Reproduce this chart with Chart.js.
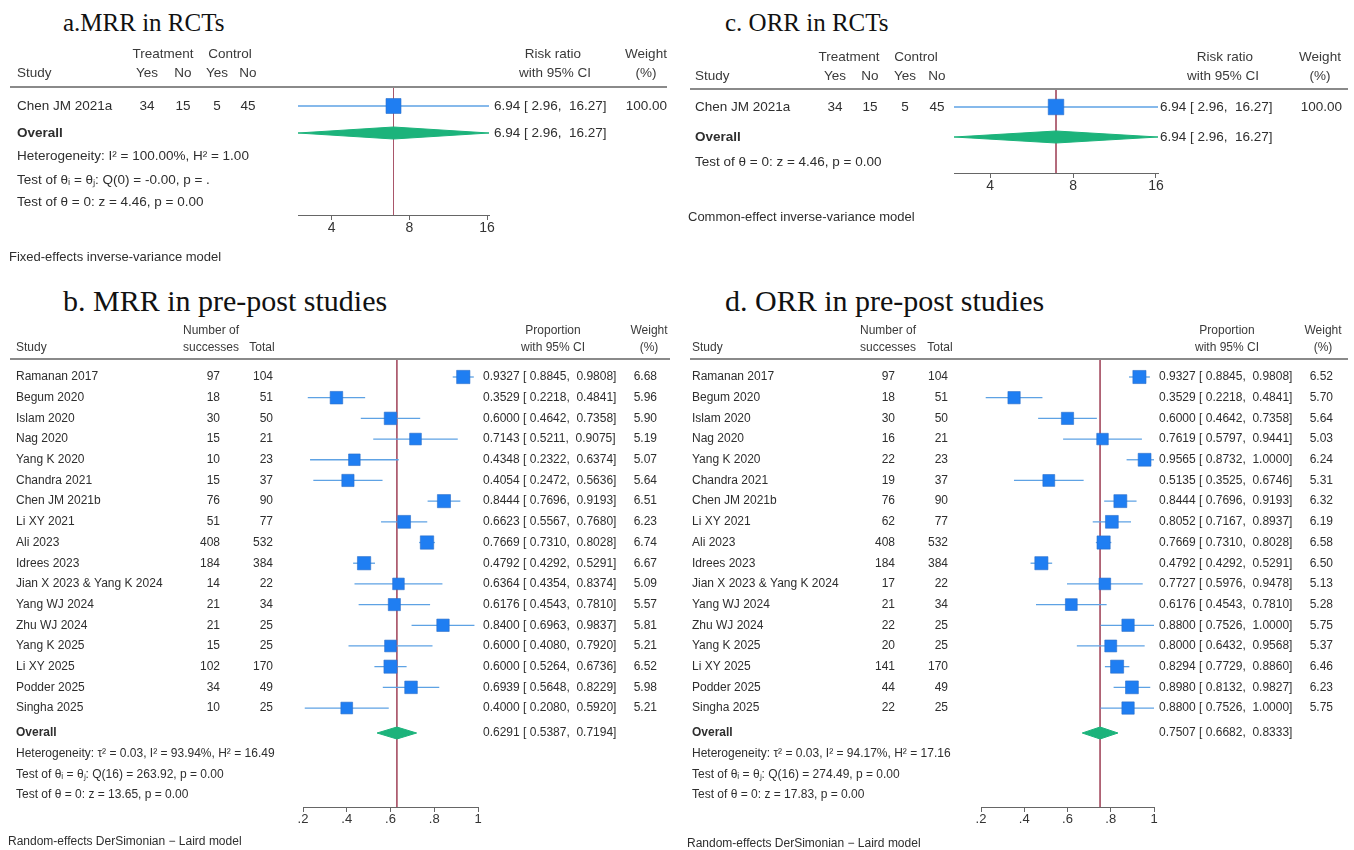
<!DOCTYPE html>
<html>
<head>
<meta charset="utf-8">
<script src="https://cdn.jsdelivr.net/npm/chart.js@4.4.1/dist/chart.umd.min.js"></script>
<style>
  body { margin: 0; background: #fff; width: 1354px; height: 850px; position: relative; overflow: hidden; }
  .panel { position: absolute; }
  .title { position: absolute; font-family: "Liberation Serif", "Times New Roman", serif; color: #111; white-space: nowrap; line-height: 1; }
</style>
</head>
<body>
<div class="title" style="left:63px; top:10px; font-size:25px;">a.MRR in RCTs</div>
<div class="title" style="left:725px; top:10px; font-size:25px;">c. ORR in RCTs</div>
<div class="title" style="left:63px; top:286px; font-size:30px;">b. MRR in pre-post studies</div>
<div class="title" style="left:725px; top:286px; font-size:30px;">d. ORR in pre-post studies</div>

<div class="panel" style="left:0; top:0; width:680px; height:275px;"><canvas id="chartA"></canvas></div>
<div class="panel" style="left:680px; top:0; width:674px; height:235px;"><canvas id="chartC"></canvas></div>
<div class="panel" style="left:0; top:290px; width:680px; height:560px;"><canvas id="chartB"></canvas></div>
<div class="panel" style="left:680px; top:290px; width:674px; height:560px;"><canvas id="chartD"></canvas></div>

<script>
// ---- RCTs (a: MRR, c: ORR) ----
const rctStudies = ['Chen JM 2021a'];
const mrrRctTreatYes = [34], mrrRctTreatNo = [15], mrrRctCtrlYes = [5], mrrRctCtrlNo = [45];
const mrrRctRR = [6.94], mrrRctLo = [2.96], mrrRctHi = [16.27], mrrRctWeight = [100.00];
const mrrRctOverall = [6.94, 2.96, 16.27];
const orrRctTreatYes = [34], orrRctTreatNo = [15], orrRctCtrlYes = [5], orrRctCtrlNo = [45];
const orrRctRR = [6.94], orrRctLo = [2.96], orrRctHi = [16.27], orrRctWeight = [100.00];
const orrRctOverall = [6.94, 2.96, 16.27];
const rctTicks = [4, 8, 16];

// ---- pre-post studies (b: MRR, d: ORR) ----
const ppStudies = ['Ramanan 2017', 'Begum 2020', 'Islam 2020', 'Nag 2020', 'Yang K 2020', 'Chandra 2021',
  'Chen JM 2021b', 'Li XY 2021', 'Ali 2023', 'Idrees 2023', 'Jian X 2023 & Yang K 2024', 'Yang WJ 2024',
  'Zhu WJ 2024', 'Yang K 2025', 'Li XY 2025', 'Podder 2025', 'Singha 2025'];
const ppTotal = [104, 51, 50, 21, 23, 37, 90, 77, 532, 384, 22, 34, 25, 25, 170, 49, 25];

const mrrEvents = [97, 18, 30, 15, 10, 15, 76, 51, 408, 184, 14, 21, 21, 15, 102, 34, 10];
const mrrProp = [0.9327, 0.3529, 0.6000, 0.7143, 0.4348, 0.4054, 0.8444, 0.6623, 0.7669, 0.4792, 0.6364, 0.6176, 0.8400, 0.6000, 0.6000, 0.6939, 0.4000];
const mrrLo = [0.8845, 0.2218, 0.4642, 0.5211, 0.2322, 0.2472, 0.7696, 0.5567, 0.7310, 0.4292, 0.4354, 0.4543, 0.6963, 0.4080, 0.5264, 0.5648, 0.2080];
const mrrHi = [0.9808, 0.4841, 0.7358, 0.9075, 0.6374, 0.5636, 0.9193, 0.7680, 0.8028, 0.5291, 0.8374, 0.7810, 0.9837, 0.7920, 0.6736, 0.8229, 0.5920];
const mrrWeight = [6.68, 5.96, 5.90, 5.19, 5.07, 5.64, 6.51, 6.23, 6.74, 6.67, 5.09, 5.57, 5.81, 5.21, 6.52, 5.98, 5.21];
const mrrOverall = [0.6291, 0.5387, 0.7194];

const orrEvents = [97, 18, 30, 16, 22, 19, 76, 62, 408, 184, 17, 21, 22, 20, 141, 44, 22];
const orrProp = [0.9327, 0.3529, 0.6000, 0.7619, 0.9565, 0.5135, 0.8444, 0.8052, 0.7669, 0.4792, 0.7727, 0.6176, 0.8800, 0.8000, 0.8294, 0.8980, 0.8800];
const orrLo = [0.8845, 0.2218, 0.4642, 0.5797, 0.8732, 0.3525, 0.7696, 0.7167, 0.7310, 0.4292, 0.5976, 0.4543, 0.7526, 0.6432, 0.7729, 0.8132, 0.7526];
const orrHi = [0.9808, 0.4841, 0.7358, 0.9441, 1.0000, 0.6746, 0.9193, 0.8937, 0.8028, 0.5291, 0.9478, 0.7810, 1.0000, 0.9568, 0.8860, 0.9827, 1.0000];
const orrWeight = [6.52, 5.70, 5.64, 5.03, 6.24, 5.31, 6.32, 6.19, 6.58, 6.50, 5.13, 5.28, 5.75, 5.37, 6.46, 6.23, 5.75];
const orrOverall = [0.7507, 0.6682, 0.8333];
const propTicks = [0.2, 0.4, 0.6, 0.8, 1];

const SANS = '"Liberation Sans", Arial, sans-serif';
const AXIS_H = 24;

function ciText(e, l, h, dp) {
  return e.toFixed(dp) + ' [ ' + l.toFixed(dp) + ',  ' + h.toFixed(dp) + ']';
}

function tickFmt(v) {
  if (v >= 2) return String(v);
  const r = Math.round(v * 10) / 10;
  return r === 1 ? '1' : String(r).replace(/^0\./, '.');
}

function forest(id, d, L) {
  const rows = d.est.map((_, i) => i);
  const yMin = (L.top - L.row0) / L.step;
  const yMax = (L.bottom - L.row0) / L.step;
  const ovRow = (L.ovY - L.row0) / L.step;
  const dh = 6 / L.step;

  const datasets = [];
  // reference line at overall estimate
  datasets.push({ type: 'line', data: [{ x: d.ov[0], y: yMin }, { x: d.ov[0], y: yMax }],
    borderColor: '#a9566a', borderWidth: 1, pointRadius: 0, order: 5 });
  // confidence intervals
  rows.forEach(i => datasets.push({ type: 'line', data: [{ x: d.lo[i], y: i }, { x: d.hi[i], y: i }],
    borderColor: '#5ea2e4', borderWidth: 1.3, pointRadius: 0, order: 4 }));
  // overall diamond
  datasets.push({ type: 'line',
    data: [{ x: d.ov[1], y: ovRow }, { x: d.ov[0], y: ovRow - dh }, { x: d.ov[2], y: ovRow },
           { x: d.ov[0], y: ovRow + dh }, { x: d.ov[1], y: ovRow }],
    borderColor: '#1cb37b', backgroundColor: '#1cb37b', borderWidth: 1, fill: 'shape',
    pointRadius: 0, tension: 0, order: 3 });
  // study estimates
  datasets.push({ type: 'scatter', data: rows.map(i => ({ x: d.est[i], y: i })),
    pointStyle: 'rect', pointRadius: d.w.map(w => L.k * Math.sqrt(w)),
    pointBackgroundColor: '#1f7ef2', pointBorderColor: '#2b6fc9', pointBorderWidth: 0.6,
    clip: false, order: 2 });

  const texts = L.texts(d, ovRow);

  const textPlugin = {
    id: 'forestText' + id,
    afterDraw(chart) {
      const ctx = chart.ctx, ys = chart.scales.y;
      ctx.save();
      ctx.strokeStyle = '#8a8a8a';
      ctx.lineWidth = 2;
      ctx.beginPath();
      ctx.moveTo(L.rule[0], chart.chartArea.top);
      ctx.lineTo(L.rule[1], chart.chartArea.top);
      ctx.stroke();
      ctx.textBaseline = 'middle';
      texts.forEach(t => {
        ctx.font = (t.bold ? 'bold ' : '') + (t.size || L.size) + 'px ' + SANS;
        ctx.fillStyle = t.color || '#2e2e2e';
        ctx.textAlign = t.align || 'left';
        const py = t.row !== undefined ? ys.getPixelForValue(t.row) : t.py;
        ctx.fillText(t.s, t.x, py);
      });
      ctx.restore();
    }
  };

  const W = L.W, H = L.H;
  new Chart(document.getElementById(id), {
    type: 'scatter',
    data: { datasets },
    options: {
      responsive: true,
      maintainAspectRatio: false,
      animation: false,
      events: [],
      layout: { padding: { left: L.left, right: W - L.right, top: L.top, bottom: H - L.bottom - AXIS_H } },
      plugins: { legend: { display: false }, tooltip: { enabled: false } },
      scales: {
        x: {
          type: L.log ? 'logarithmic' : 'linear',
          bounds: 'data',
          min: L.xMin, max: L.xMax,
          afterBuildTicks: s => { s.ticks = L.ticks.map(v => ({ value: v })); },
          afterFit: s => { s.height = AXIS_H; },
          ticks: { callback: v => tickFmt(v), color: '#333', font: { size: L.tickSize, family: SANS },
                   padding: 0, autoSkip: false, maxRotation: 0 },
          grid: { display: true, drawOnChartArea: false, drawTicks: true, tickLength: 5, color: '#666', lineWidth: 1 },
          border: { display: true, color: '#666', width: 1 }
        },
        y: { type: 'linear', display: false, reverse: true, min: yMin, max: yMax }
      }
    },
    plugins: [textPlugin]
  });
}

function rctTextBuilder(c, stats, footer, foot) {
  return (d, ovRow) => {
    const t = [];
    const hc = '#3a3a3a';
    t.push({ s: 'Treatment', x: c.treat, py: c.h1, align: 'center', color: hc });
    t.push({ s: 'Control', x: c.ctrl, py: c.h1, align: 'center', color: hc });
    t.push({ s: 'Risk ratio', x: c.ciH, py: c.h1, align: 'center', color: hc });
    t.push({ s: 'Weight', x: c.wH, py: c.h1, align: 'center', color: hc });
    t.push({ s: 'Study', x: c.name, py: c.h2, color: hc });
    t.push({ s: 'Yes', x: c.ty, py: c.h2, align: 'center', color: hc });
    t.push({ s: 'No', x: c.tn, py: c.h2, align: 'center', color: hc });
    t.push({ s: 'Yes', x: c.cy, py: c.h2, align: 'center', color: hc });
    t.push({ s: 'No', x: c.cn, py: c.h2, align: 'center', color: hc });
    t.push({ s: 'with 95% CI', x: c.ciH2, py: c.h2, align: 'center', color: hc });
    t.push({ s: '(%)', x: c.wH, py: c.h2, align: 'center', color: hc });
    d.names.forEach((nm, i) => {
      t.push({ s: nm, x: c.name, row: i });
      t.push({ s: String(d.ty[i]), x: c.ty, row: i, align: 'center' });
      t.push({ s: String(d.tn[i]), x: c.tn, row: i, align: 'center' });
      t.push({ s: String(d.cy[i]), x: c.cy, row: i, align: 'center' });
      t.push({ s: String(d.cn[i]), x: c.cn, row: i, align: 'center' });
      t.push({ s: ciText(d.est[i], d.lo[i], d.hi[i], 2), x: c.val, row: i });
      t.push({ s: d.w[i].toFixed(2), x: c.w, row: i, align: 'right' });
    });
    t.push({ s: 'Overall', x: c.name, row: ovRow, bold: true });
    t.push({ s: ciText(d.ov[0], d.ov[1], d.ov[2], 2), x: c.val, row: ovRow });
    stats.forEach((s, j) => t.push({ s, x: c.name, py: c.stats[j] }));
    t.push({ s: footer, x: foot[0], py: foot[1], size: 13 });
    return t;
  };
}

function ppTextBuilder(c, stats, footer, foot) {
  return (d, ovRow) => {
    const t = [];
    const hc = '#3a3a3a';
    t.push({ s: 'Number of', x: c.evH, py: c.h1, align: 'center', color: hc });
    t.push({ s: 'Proportion', x: c.ciH, py: c.h1, align: 'center', color: hc });
    t.push({ s: 'Weight', x: c.wH, py: c.h1, align: 'center', color: hc });
    t.push({ s: 'Study', x: c.name, py: c.h2, color: hc });
    t.push({ s: 'successes', x: c.evH, py: c.h2, align: 'center', color: hc });
    t.push({ s: 'Total', x: c.totH, py: c.h2, align: 'center', color: hc });
    t.push({ s: 'with 95% CI', x: c.ciH, py: c.h2, align: 'center', color: hc });
    t.push({ s: '(%)', x: c.wH, py: c.h2, align: 'center', color: hc });
    d.names.forEach((nm, i) => {
      t.push({ s: nm, x: c.name, row: i });
      t.push({ s: String(d.ev[i]), x: c.ev, row: i, align: 'right' });
      t.push({ s: String(d.tot[i]), x: c.tot, row: i, align: 'right' });
      t.push({ s: ciText(d.est[i], d.lo[i], d.hi[i], 4), x: c.val, row: i });
      t.push({ s: d.w[i].toFixed(2), x: c.w, row: i, align: 'right' });
    });
    t.push({ s: 'Overall', x: c.name, row: ovRow, bold: true });
    t.push({ s: ciText(d.ov[0], d.ov[1], d.ov[2], 4), x: c.val, row: ovRow });
    stats.forEach((s, j) => t.push({ s, x: c.name, py: c.stats[j] }));
    t.push({ s: footer, x: foot[0], py: foot[1] });
    return t;
  };
}

// a. MRR in RCTs
forest('chartA', {
  names: rctStudies, ty: mrrRctTreatYes, tn: mrrRctTreatNo, cy: mrrRctCtrlYes, cn: mrrRctCtrlNo,
  est: mrrRctRR, lo: mrrRctLo, hi: mrrRctHi, w: mrrRctWeight, ov: mrrRctOverall
}, {
  W: 680, H: 275, left: 298, right: 489, top: 87, bottom: 215, row0: 106, step: 23, ovY: 133,
  log: true, xMin: 2.96, xMax: 16.27, ticks: rctTicks, tickSize: 14, k: 1.06, size: 13.5, rule: [10, 667],
  texts: rctTextBuilder(
    { name: 17, treat: 163, ctrl: 230, ty: 147, tn: 183, cy: 217, cn: 248, ciH: 553, ciH2: 555, wH: 646,
      val: 494, w: 667, h1: 54, h2: 73, stats: [156, 180, 202] },
    ['Heterogeneity: I² = 100.00%, H² = 1.00', 'Test of θᵢ = θⱼ: Q(0) = -0.00, p = .', 'Test of θ = 0: z = 4.46, p = 0.00'],
    'Fixed-effects inverse-variance model', [9, 257])
});

// c. ORR in RCTs
forest('chartC', {
  names: rctStudies, ty: orrRctTreatYes, tn: orrRctTreatNo, cy: orrRctCtrlYes, cn: orrRctCtrlNo,
  est: orrRctRR, lo: orrRctLo, hi: orrRctHi, w: orrRctWeight, ov: orrRctOverall
}, {
  W: 674, H: 235, left: 274, right: 478, top: 89, bottom: 173, row0: 107, step: 23, ovY: 137,
  log: true, xMin: 2.96, xMax: 16.27, ticks: rctTicks, tickSize: 14, k: 1.1, size: 13.5, rule: [10, 668],
  texts: rctTextBuilder(
    { name: 15, treat: 169, ctrl: 236, ty: 155, tn: 190, cy: 225, cn: 257, ciH: 545, ciH2: 543, wH: 640,
      val: 480, w: 662, h1: 57, h2: 76, stats: [162] },
    ['Test of θ = 0: z = 4.46, p = 0.00'],
    'Common-effect inverse-variance model', [8, 217])
});

// b. MRR in pre-post studies
forest('chartB', {
  names: ppStudies, ev: mrrEvents, tot: ppTotal,
  est: mrrProp, lo: mrrLo, hi: mrrHi, w: mrrWeight, ov: mrrOverall
}, {
  W: 680, H: 560, left: 303, right: 478, top: 69, bottom: 517, row0: 87, step: 20.69, ovY: 443,
  log: false, xMin: 0.2, xMax: 1, ticks: propTicks, tickSize: 13, k: 3.64, size: 12, rule: [10, 670],
  texts: ppTextBuilder(
    { name: 16, evH: 211, totH: 262, ev: 220, tot: 273, ciH: 553, wH: 649, val: 483, w: 657,
      h1: 41, h2: 58, stats: [464, 485, 505] },
    ['Heterogeneity: τ² = 0.03, I² = 93.94%, H² = 16.49', 'Test of θᵢ = θⱼ: Q(16) = 263.92, p = 0.00', 'Test of θ = 0: z = 13.65, p = 0.00'],
    'Random-effects DerSimonian − Laird model', [8, 552])
});

// d. ORR in pre-post studies
forest('chartD', {
  names: ppStudies, ev: orrEvents, tot: ppTotal,
  est: orrProp, lo: orrLo, hi: orrHi, w: orrWeight, ov: orrOverall
}, {
  W: 674, H: 560, left: 301, right: 474, top: 69, bottom: 517, row0: 87, step: 20.69, ovY: 443,
  log: false, xMin: 0.2, xMax: 1, ticks: propTicks, tickSize: 13, k: 3.64, size: 12, rule: [10, 668],
  texts: ppTextBuilder(
    { name: 12, evH: 208, totH: 260, ev: 215, tot: 268, ciH: 547, wH: 643, val: 479, w: 653,
      h1: 41, h2: 58, stats: [464, 485, 505] },
    ['Heterogeneity: τ² = 0.03, I² = 94.17%, H² = 17.16', 'Test of θᵢ = θⱼ: Q(16) = 274.49, p = 0.00', 'Test of θ = 0: z = 17.83, p = 0.00'],
    'Random-effects DerSimonian − Laird model', [7, 554])
});
</script>
</body>
</html>
